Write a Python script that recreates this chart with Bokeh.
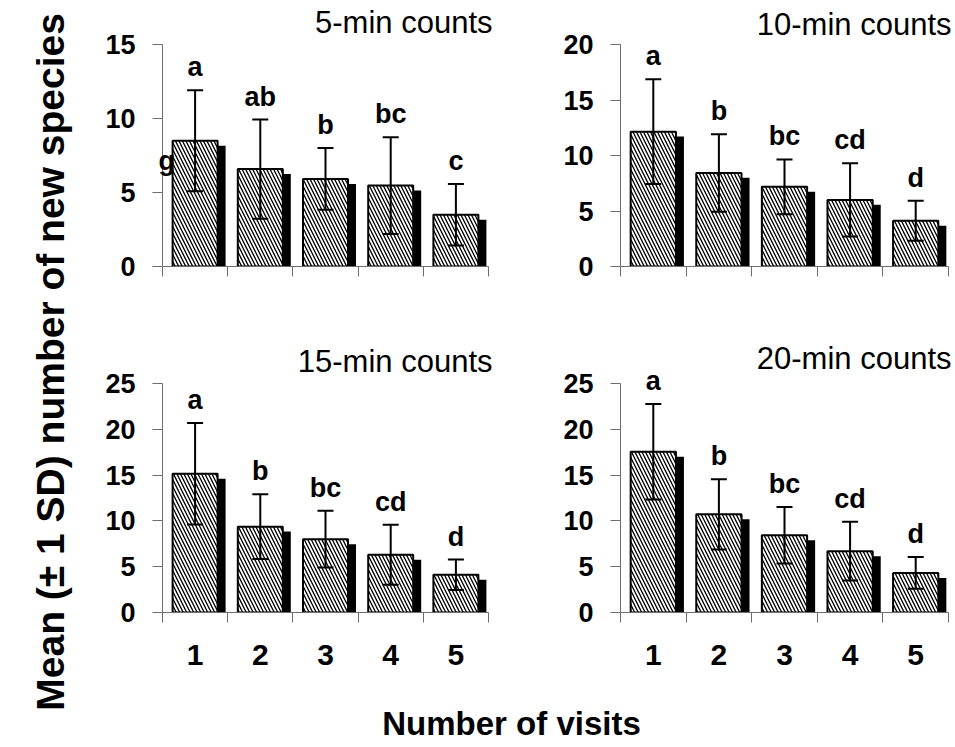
import math
from bokeh.plotting import figure
from bokeh.models import ColumnDataSource, Range1d, FixedTicker, Whisker, TeeHead
from bokeh.layouts import row, column
from bokeh.embed import file_html
from bokeh.resources import INLINE
from bokeh.core.properties import value

# ---------------- data ----------------
visits = [1, 2, 3, 4, 5]

titles = ["5-min counts", "10-min counts", "15-min counts", "20-min counts"]

mean_5 = [8.5, 6.58, 5.92, 5.47, 3.5]
sd_5 = [3.41, 3.35, 2.08, 3.27, 2.08]
letters_5 = ["a", "ab", "b", "bc", "c"]

mean_10 = [12.15, 8.43, 7.18, 6.0, 4.12]
sd_10 = [4.72, 3.49, 2.47, 3.3, 1.8]
letters_10 = ["a", "b", "bc", "cd", "d"]

mean_15 = [15.15, 9.37, 8.0, 6.3, 4.12]
sd_15 = [5.54, 3.53, 3.1, 3.28, 1.66]
letters_15 = ["a", "b", "bc", "cd", "d"]

mean_20 = [17.55, 10.72, 8.44, 6.7, 4.32]
sd_20 = [5.22, 3.84, 3.09, 3.2, 1.74]
letters_20 = ["a", "b", "bc", "cd", "d"]

y_max = [15, 20, 25, 25]
y_step = 5

stray_text = "g"  # stray character printed in the 5-min panel
stray_y = 6.5

y_title = "Mean (\u00b1 1 SD)  number of new species"
x_title = "Number of visits"

FONT = value("Liberation Sans")
AXIS_COLOR = "#6e6e6e"

# ---------------- panels ----------------
def make_panel(title, means, sds, letters, ymax, width, height, borders,
               show_xlabels, title_dx, title_dy):
    l, r, t, b = borders
    p = figure(width=width, height=height, output_backend="svg", title=None,
               toolbar_location=None, x_range=Range1d(0.5, 5.5),
               y_range=Range1d(0, ymax), min_border_left=l, min_border_right=r,
               min_border_top=t, min_border_bottom=b)
    p.outline_line_color = None
    p.grid.visible = False
    p.background_fill_color = "white"
    p.border_fill_color = "white"

    frame_w = width - l - r
    frame_h = height - t - b
    px_x = 5.0 / frame_w
    px_y = ymax / frame_h
    bw = 0.69
    dx = 8 * px_x
    dy = 5 * px_y

    src = ColumnDataSource(dict(
        x=visits, mean=means,
        upper=[m + s for m, s in zip(means, sds)],
        lower=[m - s for m, s in zip(means, sds)],
        letter=letters,
        sl=[v - bw / 2 + dx for v in visits],
        sr=[v + bw / 2 + dx for v in visits],
        st=[m - dy for m in means],
    ))

    # shadow
    p.quad(left="sl", right="sr", top="st", bottom=0, source=src,
           fill_color="black", line_color=None)
    # hatched bars
    p.vbar(x="x", width=bw, top="mean", bottom=0, source=src,
           fill_color="white", line_color="black", line_width=2,
           hatch_pattern="\\", hatch_color="black", hatch_scale=7,
           hatch_weight=1.3)

    w = Whisker(source=src, base="x", upper="upper", lower="lower",
                dimension="height", line_color="black", line_width=2,
                upper_head=TeeHead(size=16, line_width=2, line_color="black"),
                lower_head=TeeHead(size=16, line_width=2, line_color="black"))
    w.level = "overlay"
    p.add_layout(w)

    tr = p.text(x="x", y="upper", text="letter", source=src, y_offset=-23,
                text_align="center", text_baseline="alphabetic",
                text_font=FONT, text_font_style="bold",
                text_font_size="27px", text_color="black")
    tr.level = "overlay"

    # panel title
    tsrc = ColumnDataSource(dict(x=[5.5], y=[ymax], t=[title]))
    tt = p.text(x="x", y="y", text="t", source=tsrc, x_offset=title_dx,
                y_offset=title_dy, text_align="right",
                text_baseline="alphabetic", text_font=FONT,
                text_font_size="31px", text_color="black")
    tt.level = "overlay"

    # axes
    minor = [v - 0.5 for v in visits] + [visits[-1] + 0.5]
    xa = p.xaxis[0]
    xa.ticker = FixedTicker(ticks=visits if show_xlabels else [],
                            minor_ticks=minor)
    xa.major_tick_out = 0
    xa.major_tick_in = 0
    xa.minor_tick_out = 10
    xa.minor_tick_in = 0
    xa.axis_line_color = AXIS_COLOR
    xa.minor_tick_line_color = AXIS_COLOR
    xa.major_label_text_font = "Liberation Sans"
    xa.major_label_text_font_style = "bold"
    xa.major_label_text_color = "black"
    xa.major_label_text_font_size = "30px"
    xa.major_label_standoff = 22

    ya = p.yaxis[0]
    ya.ticker = FixedTicker(ticks=list(range(0, ymax + 1, y_step)))
    ya.major_tick_out = 10
    ya.major_tick_in = 0
    ya.minor_tick_line_color = None
    ya.axis_line_color = AXIS_COLOR
    ya.major_tick_line_color = AXIS_COLOR
    ya.major_label_text_font = "Liberation Sans"
    ya.major_label_text_font_style = "bold"
    ya.major_label_text_font_size = "27px"
    ya.major_label_text_color = "black"
    ya.major_label_standoff = 17
    return p


p1 = make_panel(titles[0], mean_5, sd_5, letters_5, y_max[0], 462, 330,
                (84, 52, 44, 64), False, 4, -22)
p2 = make_panel(titles[1], mean_10, sd_10, letters_10, y_max[1], 415, 330,
                (80, 7, 42, 60), False, 3, -20)
p3 = make_panel(titles[2], mean_15, sd_15, letters_15, y_max[2], 462, 360,
                (84, 52, 51, 77), True, 4, -22)
p4 = make_panel(titles[3], mean_20, sd_20, letters_20, y_max[3], 415, 360,
                (80, 7, 53, 78), True, 3, -25)

# stray "g" in the first panel
gsrc = ColumnDataSource(dict(x=[0.5], y=[stray_y], t=[stray_text]))
gr = p1.text(x="x", y="y", text="t", source=gsrc, x_offset=-4, y_offset=-9,
             text_align="left", text_baseline="alphabetic", text_font=FONT,
             text_font_style="bold", text_font_size="27px", text_color="black")
gr.level = "overlay"

# ---------------- shared axis titles ----------------
def blank(width, height):
    f = figure(width=width, height=height, output_backend="svg", title=None,
               toolbar_location=None, x_range=Range1d(0, width),
               y_range=Range1d(0, height), min_border=0)
    f.axis.visible = False
    f.grid.visible = False
    f.outline_line_color = None
    return f

ylab = blank(78, 747)
ylab.text(x=[50], y=[391], text=[y_title], angle=math.pi / 2,
          text_align="center", text_baseline="middle", text_font=FONT,
          text_font_style="bold", text_font_size="39px", text_color="black")

xlab = blank(877, 57)
xlab.text(x=[433], y=[24], text=[x_title], text_align="center",
          text_baseline="alphabetic", text_font=FONT, text_font_style="bold",
          text_font_size="33px", text_color="black")

layout = row(ylab, column(row(p1, p2), row(p3, p4), xlab))

open("out.html", "w").write(file_html(layout, INLINE))
